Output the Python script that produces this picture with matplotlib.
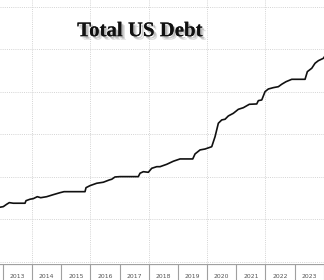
import matplotlib
matplotlib.use("Agg")
import matplotlib.pyplot as plt
import matplotlib.patheffects as pe
import numpy as np

# Decimal year and total US debt (trillions USD)
years = [2012.897, 2013.010, 2013.127, 2013.216, 2013.353, 2013.755, 2013.789, 2013.926,
         2014.039, 2014.177, 2014.293, 2014.499, 2014.726, 2014.955, 2015.093, 2015.813,
         2015.847, 2015.985, 2016.214, 2016.441, 2016.647, 2016.729, 2016.842, 2017.014,
         2017.641, 2017.700, 2017.813, 2017.985, 2018.101, 2018.273, 2018.386, 2018.616,
         2018.842, 2019.072, 2019.508, 2019.587, 2019.758, 2019.930, 2020.159, 2020.273,
         2020.386, 2020.503, 2020.616, 2020.729, 2020.900, 2021.072, 2021.244, 2021.449,
         2021.703, 2021.758, 2021.875, 2021.988, 2022.101, 2022.273, 2022.444, 2022.561,
         2022.708, 2022.904, 2023.360, 2023.439, 2023.590, 2023.703, 2023.816, 2023.988,
         2024.02]
debt = [16.44, 16.51, 16.79, 16.98, 16.91, 16.91, 17.21, 17.38,
        17.45, 17.68, 17.56, 17.68, 17.92, 18.15, 18.27, 18.27,
        18.74, 18.98, 19.26, 19.38, 19.65, 19.73, 20.00, 20.04,
        20.04, 20.44, 20.62, 20.55, 21.02, 21.21, 21.21, 21.49,
        21.85, 22.12, 22.12, 22.71, 23.18, 23.29, 23.56, 24.74,
        26.32, 26.71, 26.79, 27.18, 27.49, 27.96, 28.15, 28.55,
        28.59, 28.98, 29.06, 30.04, 30.35, 30.51, 30.62, 30.91,
        31.21, 31.49, 31.49, 32.39, 32.79, 33.38, 33.68, 33.96,
        34.12]
year_labels = ["2013", "2014", "2015", "2016", "2017", "2018", "2019",
               "2020", "2021", "2022", "2023"]
y_grid = [10, 15, 20, 25, 30, 35, 40]
x_grid = [2014, 2016, 2018, 2020, 2022, 2024]

W, H = 324, 280
fig = plt.figure(figsize=(W / 100, H / 100), dpi=100)
fig.patch.set_facecolor("white")

xmin, xmax = 2012.897, 2024.01
band_top = 264
ax = fig.add_axes([0, (H - band_top) / H, 1, band_top / H])
ax.set_xlim(xmin, xmax)
ax.set_ylim(9.76, 40.82)
for s in ax.spines.values():
    s.set_visible(False)
ax.set_xticks([])
ax.set_yticks([])
for g in y_grid:
    ax.axhline(g, color="#d4d4d4", lw=0.7, ls=(0, (1, 1.2)), zorder=1)
for g in x_grid:
    ax.axvline(g, color="#d4d4d4", lw=0.7, ls=(0, (1, 1.2)), zorder=1)

ax.plot(years, debt, color="#111111", lw=1.2, zorder=3, solid_joinstyle="round")

shadow = [
    pe.withSimplePatchShadow(offset=(2.5, -2.5), shadow_rgbFace="#bbbbbb", alpha=0.5),
    pe.SimplePatchShadow(offset=(1.5, -1.5), shadow_rgbFace="#999999", alpha=0.5),
    pe.Normal(),
]
ax.text(2017.7, 37.15, "Total US Debt", family="Liberation Serif", weight="bold",
        fontsize=15, ha="center", va="center", color="#111111", zorder=4,
        path_effects=shadow)

# Year band at bottom
bx = fig.add_axes([0, 0, 1, (H - band_top) / H])
bx.set_xlim(xmin, xmax)
bx.set_ylim(0, 1)
for s in bx.spines.values():
    s.set_visible(False)
bx.set_xticks([])
bx.set_yticks([])
bx.axhline(1, color="#a0a0a0", lw=0.9)
for i in range(len(year_labels) + 1):
    bx.axvline(2013 + i, color="#a0a0a0", lw=0.8)
for i, lab in enumerate(year_labels):
    bx.text(2013.5 + i, 0.25, lab, ha="center", va="center", fontsize=4.4,
            color="#555555", family="DejaVu Sans")

fig.savefig("out.png", dpi=100)
